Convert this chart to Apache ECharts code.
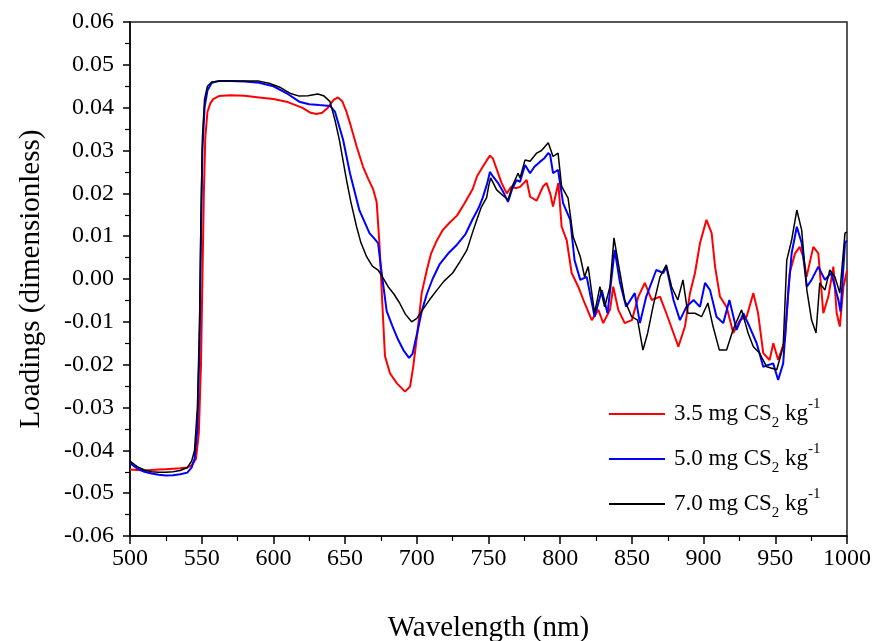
<!DOCTYPE html>
<html>
<head>
<meta charset="utf-8">
<script src="https://cdn.jsdelivr.net/npm/echarts@6/dist/echarts.min.js"></script>
<style>html,body{margin:0;padding:0;background:#fff}#c{width:872px;height:641px}</style>
</head>
<body>
<div id="c"></div>
<script>
var seriesNames = ['3.5 mg CS2 kg-1', '5.0 mg CS2 kg-1', '7.0 mg CS2 kg-1'];
var xTicks = [500, 550, 600, 650, 700, 750, 800, 850, 900, 950, 1000];
var yTicks = [-0.06, -0.05, -0.04, -0.03, -0.02, -0.01, 0.00, 0.01, 0.02, 0.03, 0.04, 0.05, 0.06];

var redX = [500,505,510,515,520,525,530,535,540,543,546,548,549.5,550.5,551.5,552.5,554,556,558,562,570,580,590,600,610,620,626,630,634,638,642,645,648,651,653.4,658,662.5,666,669.5,672,674,676,677.8,681.3,686,691.8,695.3,697.5,700.4,703.4,707,710,714,718,723,728,733,739,742,746,749,751,753,756.7,759,762.7,766,769,772,776.6,779,783.6,788,790.5,793,795,798.7,801,804.5,808,812.6,817,822,826.6,830,834.7,837,840.5,845,850,854.5,859,863.8,869.6,874,879,882.4,887,890.5,894,897.5,902,905.6,908,911.4,916,920.7,925.4,930,934.7,938,941.6,946,948.6,952,956.7,960,963.8,967,969.5,971.8,976.5,980,983.5,987,990.5,992.8,995,997.5,1000];
var redY = [-0.0445,-0.0446,-0.0447,-0.0446,-0.0445,-0.0444,-0.0443,-0.0442,-0.0440,-0.0435,-0.0420,-0.0360,-0.0200,0.0000,0.0200,0.0330,0.0390,0.0410,0.0420,0.0427,0.0429,0.0428,0.0424,0.0420,0.0413,0.0400,0.0388,0.0385,0.0388,0.0400,0.0418,0.0424,0.0415,0.0390,0.0364,0.0310,0.0262,0.0235,0.0210,0.0180,0.0080,-0.0060,-0.0180,-0.0220,-0.0243,-0.0263,-0.0251,-0.0205,-0.0126,-0.0033,0.0021,0.0060,0.0090,0.0114,0.0132,0.0148,0.0175,0.0210,0.0240,0.0262,0.0278,0.0288,0.0282,0.0247,0.0225,0.0200,0.0216,0.0212,0.0215,0.0231,0.0192,0.0183,0.0216,0.0224,0.0200,0.0169,0.0224,0.0122,0.0091,0.0014,-0.0018,-0.0056,-0.0096,-0.0072,-0.0103,-0.0072,-0.0018,-0.0072,-0.0103,-0.0096,-0.0041,-0.0009,-0.0049,-0.0041,-0.0080,-0.0126,-0.0158,-0.0111,-0.0033,0.0014,0.0084,0.0138,0.0107,0.0029,-0.0041,-0.0065,-0.0126,-0.0096,-0.0088,-0.0033,-0.0080,-0.0173,-0.0189,-0.0150,-0.0189,-0.0142,0.0014,0.0060,0.0075,0.0052,0.0005,0.0075,0.0060,-0.0080,-0.0041,0.0029,-0.0080,-0.0111,-0.0018,0.0020];

var blueX = [500,505,510,515,520,525,530,535,540,543,545,547,548.5,549.5,550.5,552,554,557,562,570,580,590,600,610,618,625,632,639.5,643,648.6,653.4,660,667,671,673,675.5,679,683,687,691,694.6,697,700,703.5,707,711,716,722,728,734,739,743,746,749,751,753,756.7,760,763.6,766.5,769.6,772,775.5,779,782,786,789,791.6,793,795,798.5,802,807,810,814,818.5,824,829,833,838,841.7,846,852,855.6,860,867,871.9,874,879,883.5,888,893,897.5,901,904.5,909,913.7,918,923,927.7,932,937,941.6,948.5,952,955.5,959,961.4,965,968.4,972,975.3,980,984.6,989,994,995.5,998.6,1000];
var blueY = [-0.0430,-0.0442,-0.0450,-0.0454,-0.0457,-0.0459,-0.0458,-0.0456,-0.0452,-0.0440,-0.0420,-0.0350,-0.0150,0.0100,0.0300,0.0400,0.0440,0.0458,0.0462,0.0462,0.0461,0.0458,0.0450,0.0432,0.0414,0.0408,0.0406,0.0404,0.0390,0.0325,0.0247,0.0160,0.0107,0.0092,0.0084,0.0014,-0.0075,-0.0110,-0.0142,-0.0168,-0.0184,-0.0175,-0.0130,-0.0075,-0.0035,0.0000,0.0035,0.0060,0.0080,0.0105,0.0140,0.0165,0.0190,0.0222,0.0250,0.0240,0.0224,0.0205,0.0180,0.0210,0.0231,0.0227,0.0266,0.0247,0.0262,0.0274,0.0282,0.0294,0.0290,0.0247,0.0255,0.0177,0.0138,0.0044,-0.0002,0.0005,-0.0088,-0.0026,-0.0080,0.0068,-0.0009,-0.0065,-0.0033,-0.0103,-0.0041,0.0021,0.0014,0.0029,-0.0049,-0.0096,-0.0065,-0.0049,-0.0065,-0.0009,-0.0026,-0.0088,-0.0103,-0.0049,-0.0119,-0.0080,-0.0111,-0.0150,-0.0205,-0.0197,-0.0236,-0.0197,-0.0033,0.0060,0.0122,0.0084,-0.0018,-0.0002,0.0029,-0.0002,0.0014,-0.0049,-0.0076,0.0084,0.0090];

var blackX = [500,505,510,515,520,525,530,535,540,543,545,547,548.5,549.5,550.5,552,554,557,562,570,580,590,597,605,612,618,624,631,635,639.5,643,646,651,654,658,661,665,669,673,676,680,684,688,692,696.4,700,704,709,714,719,725,730,735,739,741.8,745,748.7,750,751.5,755.7,760,763.6,767,770.6,772,775.5,779,783.6,787,791.7,795,798.5,801,805.5,809,814,817,819.5,824,827.7,831,834.7,837.5,841.7,845,849.8,854,857.7,861,864.7,869.6,874,877.7,882,885.6,889,894,898.6,903,906.6,911,916,920.5,926.5,931,934.7,939,944,951,955.5,958,961.4,965,968.4,972,975.3,978.4,981,984.6,988,991.6,995,998.6,1000];
var blackY = [-0.0425,-0.0438,-0.0446,-0.0450,-0.0451,-0.0451,-0.0450,-0.0447,-0.0440,-0.0425,-0.0400,-0.0300,-0.0100,0.0150,0.0330,0.0420,0.0450,0.0460,0.0462,0.0462,0.0462,0.0462,0.0457,0.0447,0.0433,0.0427,0.0428,0.0432,0.0428,0.0414,0.0370,0.0325,0.0231,0.0180,0.0122,0.0085,0.0052,0.0030,0.0021,0.0005,-0.0018,-0.0035,-0.0056,-0.0082,-0.0100,-0.0092,-0.0072,-0.0048,-0.0026,-0.0005,0.0014,0.0040,0.0068,0.0110,0.0138,0.0168,0.0190,0.0215,0.0236,0.0208,0.0195,0.0185,0.0220,0.0247,0.0236,0.0278,0.0275,0.0294,0.0300,0.0318,0.0286,0.0294,0.0216,0.0189,0.0099,0.0052,0.0005,0.0029,-0.0080,-0.0018,-0.0065,-0.0018,0.0096,0.0014,-0.0049,-0.0088,-0.0096,-0.0166,-0.0126,-0.0065,0.0005,0.0033,-0.0018,-0.0049,-0.0002,-0.0080,-0.0080,-0.0088,-0.0056,-0.0111,-0.0166,-0.0166,-0.0119,-0.0072,-0.0126,-0.0158,-0.0173,-0.0205,-0.0212,-0.0158,0.0044,0.0091,0.0161,0.0114,-0.0026,-0.0096,-0.0126,-0.0009,-0.0026,0.0021,0.0005,-0.0033,0.0107,0.0110];

function zip(xs, ys) { return xs.map(function (x, i) { return [x, ys[i]]; }); }

var FONT = 'Liberation Serif';
var chart = echarts.init(document.getElementById('c'), null, {renderer: 'canvas'});

var legendLabels = {};
legendLabels[seriesNames[0]] = '3.5 mg CS{sub|2} kg{sup|-1}';
legendLabels[seriesNames[1]] = '5.0 mg CS{sub|2} kg{sup|-1}';
legendLabels[seriesNames[2]] = '7.0 mg CS{sub|2} kg{sup|-1}';

chart.setOption({
  animation: false,
  backgroundColor: '#fff',
  grid: {left: 130, right: 25, top: 22, bottom: 105, containLabel: false, outerBoundsMode: 'none',
    show: true, borderColor: '#222', borderWidth: 1.5, backgroundColor: 'transparent'},
  legend: {
    orient: 'vertical', left: 604, top: 392, itemWidth: 56, itemHeight: 2, itemGap: 11,
    icon: 'rect',
    data: seriesNames,
    formatter: function (n) { return legendLabels[n]; },
    textStyle: {
      fontFamily: FONT, fontSize: 23, color: '#000', lineHeight: 30, padding: [0, 0, 0, 4],
      rich: {
        sub: {fontFamily: FONT, fontSize: 15, color: '#000', verticalAlign: 'bottom', lineHeight: 30, padding: [0, 0, -2, 0]},
        sup: {fontFamily: FONT, fontSize: 15, color: '#000', verticalAlign: 'top', lineHeight: 30, padding: [-2, 0, 0, 0]}
      }
    }
  },
  xAxis: {
    type: 'value', min: xTicks[0], max: xTicks[xTicks.length - 1], interval: 50,
    name: 'Wavelength (nm)', nameLocation: 'middle', nameGap: 78,
    nameTextStyle: {fontFamily: FONT, fontSize: 29, color: '#000'},
    axisLine: {show: true, onZero: false, lineStyle: {color: '#000', width: 1.5}},
    axisTick: {show: true, inside: false, length: 8, lineStyle: {color: '#000', width: 1.5}},
    minorTick: {show: true, splitNumber: 2, length: 5, lineStyle: {color: '#000', width: 1.2}},
    axisLabel: {fontFamily: FONT, fontSize: 24, color: '#000', margin: 11,
      formatter: function (v) { return String(Math.round(v)); }},
    splitLine: {show: false}
  },
  yAxis: {
    type: 'value', min: yTicks[0], max: yTicks[yTicks.length - 1], interval: 0.01,
    name: 'Loadings (dimensionless)', nameLocation: 'middle', nameGap: 84,
    nameTextStyle: {fontFamily: FONT, fontSize: 29, color: '#000'},
    axisLine: {show: true, onZero: false, lineStyle: {color: '#000', width: 1.5}},
    axisTick: {show: true, inside: false, length: 7, lineStyle: {color: '#000', width: 1.5}},
    minorTick: {show: true, splitNumber: 2, length: 5, lineStyle: {color: '#000', width: 1.2}},
    axisLabel: {fontFamily: FONT, fontSize: 24, color: '#000', margin: 16,
      formatter: function (v) { var s = (Math.round(v * 100) / 100).toFixed(2); return s === '-0.00' ? '0.00' : s; }},
    splitLine: {show: false}
  },
  series: [
    {name: seriesNames[0], type: 'line', data: zip(redX, redY), showSymbol: false, symbol: 'none', lineStyle: {color: '#ff0000', width: 2}, itemStyle: {color: '#ff0000'}},
    {name: seriesNames[1], type: 'line', data: zip(blueX, blueY), showSymbol: false, symbol: 'none', lineStyle: {color: '#0000ff', width: 2}, itemStyle: {color: '#0000ff'}},
    {name: seriesNames[2], type: 'line', data: zip(blackX, blackY), showSymbol: false, symbol: 'none', lineStyle: {color: '#000000', width: 1.5}, itemStyle: {color: '#000000'}}
  ]
});
</script>
</body>
</html>
